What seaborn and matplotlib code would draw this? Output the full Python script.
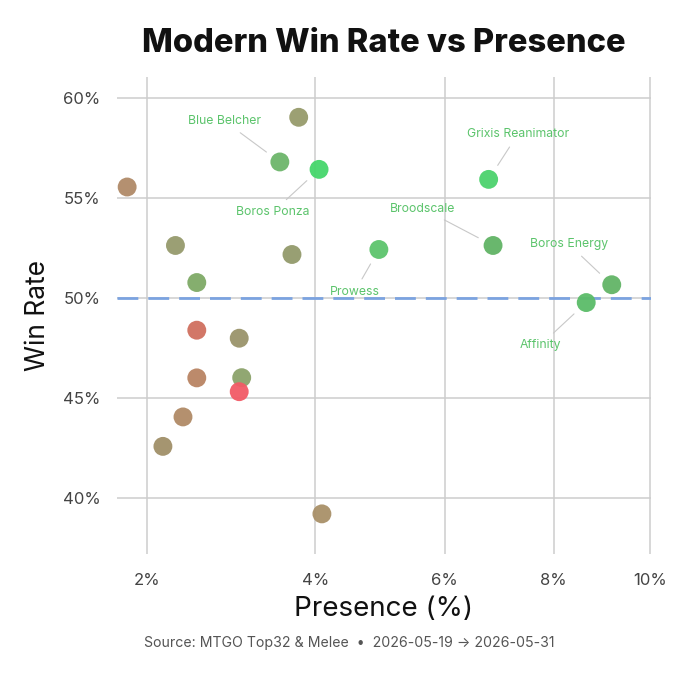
import matplotlib

matplotlib.use("Agg")
import matplotlib.pyplot as plt
import numpy as np
import pandas as pd
import seaborn as sns
from matplotlib.ticker import FixedLocator, FuncFormatter

# --- data ------------------------------------------------------------------
presence = [1.81, 2.29, 2.52, 3.52, 3.77, 4.05, 3.68, 4.93, 6.77, 6.85,
            9.18, 8.65, 2.52, 3.01, 2.52, 3.04, 3.01, 2.37, 2.16, 4.09]
win_rate = [55.55, 52.63, 50.78, 56.80, 59.03, 56.43, 52.18, 52.43, 55.93, 52.63,
            50.67, 49.78, 48.40, 48.00, 46.02, 46.03, 45.33, 44.07, 42.60, 39.23]
deck_labels = ["", "", "", "Blue Belcher", "", "Boros Ponza", "", "Prowess",
               "Grixis Reanimator", "Broodscale", "Boros Energy", "Affinity",
               "", "", "", "", "", "", "", ""]
point_colors = ["#b08a68", "#969a6c", "#7eaa66", "#6cb56a", "#979b6b", "#45d66b",
                "#939a6b", "#5dc46d", "#4cd26d", "#61b365", "#62b466", "#5bbc68",
                "#d0705f", "#9a946a", "#b98463", "#8ba26a", "#f25b66", "#b08a66",
                "#a08f68", "#a99068"]
x_ticks = [2, 4, 6, 8, 10]
y_ticks = [40, 45, 50, 55, 60]
baseline = 50
title = "Modern Win Rate vs Presence"
caption = "Source: MTGO Top32 & Melee  \u2022  2026-05-19 \u2192 2026-05-31"

# label offsets (points) from each labelled dot
label_offsets = {
    "Blue Belcher": (-40, 29.5),
    "Boros Ponza": (-33, -30.5),
    "Prowess": (-17.5, -30.5),
    "Grixis Reanimator": (21, 32.5),
    "Broodscale": (-50.5, 26.5),
    "Boros Energy": (-31, 29.3),
    "Affinity": (-33, -30.7),
}

sns.set_theme(style="white")
plt.rcParams["font.family"] = ["Inter", "DejaVu Sans"]

df = pd.DataFrame({
    "presence": presence,
    "win_rate": win_rate,
    "deck": deck_labels,
    "key": [f"p{i}" for i in range(len(presence))],
})
palette = dict(zip(df["key"], point_colors))

fig = plt.figure(figsize=(6.8, 6.8), dpi=100)
ax = fig.add_axes([0.172, 0.186, 0.785, 0.701])

ax.set_xscale("function", functions=(np.sqrt, np.square))
ax.grid(True, color="#cdcdcd", lw=1.1)
ax.set_axisbelow(True)
ax.axhline(baseline, color="#7ba3e0", lw=2.0, ls=(0, (7.5, 3.6)), zorder=1.5)

sns.scatterplot(data=df, x="presence", y="win_rate", hue="key", palette=palette,
                s=185, edgecolor="none", alpha=0.95, legend=False, ax=ax, zorder=3)

for _, r in df[df["deck"] != ""].iterrows():
    ax.annotate(r["deck"], (r["presence"], r["win_rate"]),
                xytext=label_offsets[r["deck"]], textcoords="offset points",
                ha="center", va="center", fontsize=8.8, color="#5cc46c",
                arrowprops=dict(arrowstyle="-", color="#c8c8c8", lw=0.8,
                                shrinkA=3, shrinkB=12))

ax.set_xlim(1.716, 10.02)
ax.set_ylim(37.25, 61.05)
ax.xaxis.set_major_locator(FixedLocator(x_ticks))
ax.xaxis.set_minor_locator(FixedLocator([]))
ax.yaxis.set_major_locator(FixedLocator(y_ticks))
ax.xaxis.set_major_formatter(FuncFormatter(lambda v, _: f"{v:g}%"))
ax.yaxis.set_major_formatter(FuncFormatter(lambda v, _: f"{v:g}%"))
ax.tick_params(axis="both", length=0, labelsize=12, labelcolor="#444444")
ax.tick_params(axis="x", pad=14)
ax.tick_params(axis="y", pad=12)
sns.despine(ax=ax, left=True, bottom=True)

ax.set_xlabel("Presence (%)", fontsize=20, color="#111111", labelpad=6)
ax.set_ylabel("Win Rate", fontsize=19, color="#111111", labelpad=8)
ax.set_title(title, fontsize=23.5, fontweight="heavy", color="#111111", pad=18)
fig.text(0.513, 0.054, caption, ha="center", va="center", fontsize=10.2,
         color="#555555")

fig.savefig("out.png", dpi=100)
